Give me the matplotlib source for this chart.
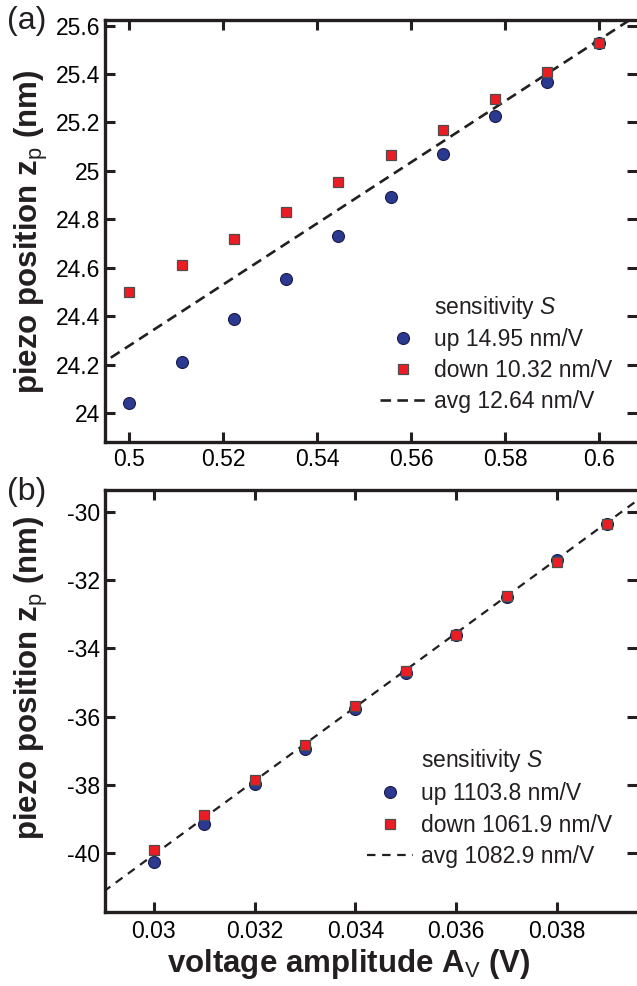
import numpy as np
import matplotlib
matplotlib.use("Agg")
import matplotlib.pyplot as plt

plt.rcParams['font.family'] = ['Liberation Sans', 'DejaVu Sans']
plt.rcParams['mathtext.fontset'] = 'custom'
plt.rcParams['mathtext.rm'] = 'Liberation Sans'
plt.rcParams['mathtext.it'] = 'Liberation Sans:italic'
plt.rcParams['mathtext.bf'] = 'Liberation Sans:bold'
plt.rcParams['axes.unicode_minus'] = False

# panel (a)
a_x = [0.5, 0.5111, 0.5222, 0.5333, 0.5444, 0.5556, 0.5667, 0.5778, 0.5889, 0.6]
a_up = [24.04, 24.21, 24.39, 24.555, 24.73, 24.89, 25.07, 25.225, 25.365, 25.53]
a_down = [24.50, 24.61, 24.72, 24.83, 24.955, 25.065, 25.17, 25.297, 25.41, 25.53]
a_avg_x = [0.49, 0.61]
a_avg_y = [24.152, 25.668]
a_xticks = [0.5, 0.52, 0.54, 0.56, 0.58, 0.6]
a_yticks = [24, 24.2, 24.4, 24.6, 24.8, 25, 25.2, 25.4, 25.6]
a_labels = ["up 14.95 nm/V", "down 10.32 nm/V", "avg 12.64 nm/V"]

# panel (b)
b_x = [0.030, 0.031, 0.032, 0.033, 0.034, 0.035, 0.036, 0.037, 0.038, 0.039]
b_up = [-40.26, -39.15, -37.97, -36.95, -35.78, -34.72, -33.62, -32.50, -31.40, -30.35]
b_down = [-39.91, -38.88, -37.87, -36.83, -35.68, -34.65, -33.60, -32.47, -31.48, -30.36]
b_avg_x = [0.029, 0.040]
b_avg_y = [-41.133, -29.22]
b_xticks = [0.03, 0.032, 0.034, 0.036, 0.038]
b_yticks = [-40, -38, -36, -34, -32, -30]
b_labels = ["up 1103.8 nm/V", "down 1061.9 nm/V", "avg 1082.9 nm/V"]

blue = "#2b3990"
red = "#ed1c24"
fs = 16.5

fig = plt.figure(figsize=(6.37, 9.86), dpi=100)
ax_a = fig.add_axes([105/637, 1-442/986, 532/637, 422/986])
ax_b = fig.add_axes([105/637, 1-912/986, 532/637, 422/986])


def style(ax, xt, yt, xpad):
    for s in ["left", "bottom", "top"]:
        ax.spines[s].set_linewidth(2.4)
        ax.spines[s].set_color("#231f20")
    ax.spines["right"].set_visible(False)
    ax.tick_params(direction="in", length=7.5, width=2.2, color="#231f20",
                   top=True, right=True, labelsize=fs)
    ax.tick_params(axis="x", pad=xpad)
    ax.tick_params(axis="y", pad=3.5)
    ax.set_xticks(xt)
    ax.set_xticklabels(["%g" % v for v in xt])
    ax.set_yticks(yt)
    ax.set_yticklabels(["%g" % v for v in yt])


def draw(ax, x, up, down, ax_x, ax_y, labels, lw, dash, loc, spacing):
    ax.plot([], [], " ", label="sensitivity $\\mathit{S}$")
    ax.plot(x, up, "o", ms=8.6, mfc=blue, mec="#1b1b4a", mew=0.8,
            label=labels[0], zorder=3)
    ax.plot(x, down, "s", ms=7.0, mfc=red, mec="#4d4d4d", mew=0.9,
            label=labels[1], zorder=4)
    ax.plot(ax_x, ax_y, "--", color="#231f20", lw=lw, dashes=dash,
            label=labels[2], zorder=2)
    leg = ax.legend(loc="upper left", bbox_to_anchor=loc, frameon=False,
                    fontsize=fs, handlelength=2.0, handletextpad=0.35,
                    labelspacing=spacing, borderpad=0, borderaxespad=0)
    for t in leg.get_texts():
        t.set_color("#231f20")


draw(ax_a, a_x, a_up, a_down, a_avg_x, a_avg_y, a_labels, 1.9, (4, 2.4),
     (0.517, 0.351), 0.33)
style(ax_a, a_xticks, a_yticks, 4)
ax_a.set_xlim(0.4948, 0.608)
ax_a.set_ylim(23.88, 25.623)

draw(ax_b, b_x, b_up, b_down, b_avg_x, b_avg_y, b_labels, 1.6, (3.8, 3.0),
     (0.4925, 0.392), 0.37)
style(ax_b, b_xticks, b_yticks, 6)
ax_b.set_xlim(0.02903, 0.03959)
ax_b.set_ylim(-41.73, -29.355)

ylab = "piezo position $\\mathbf{z}_{\\mathrm{p}}$ (nm)"
fig.text(31/637, 1-232/986, ylab, rotation=90, ha="center", va="center",
         fontsize=22.5, fontweight="bold", color="#231f20")
fig.text(31/637, 1-678/986, ylab, rotation=90, ha="center", va="center",
         fontsize=22.5, fontweight="bold", color="#231f20")
fig.text(349/637, 1-972/986, "voltage amplitude $\\mathbf{A}_{\\mathrm{V}}$ (V)",
         ha="center", va="baseline", fontsize=22.5, fontweight="bold", color="#231f20")

fig.text(7/637, 1-21/986, "(a)", ha="left", va="center", fontsize=23, color="#231f20")
fig.text(7/637, 1-492/986, "(b)", ha="left", va="center", fontsize=23, color="#231f20")

fig.savefig("out.png", dpi=100)
